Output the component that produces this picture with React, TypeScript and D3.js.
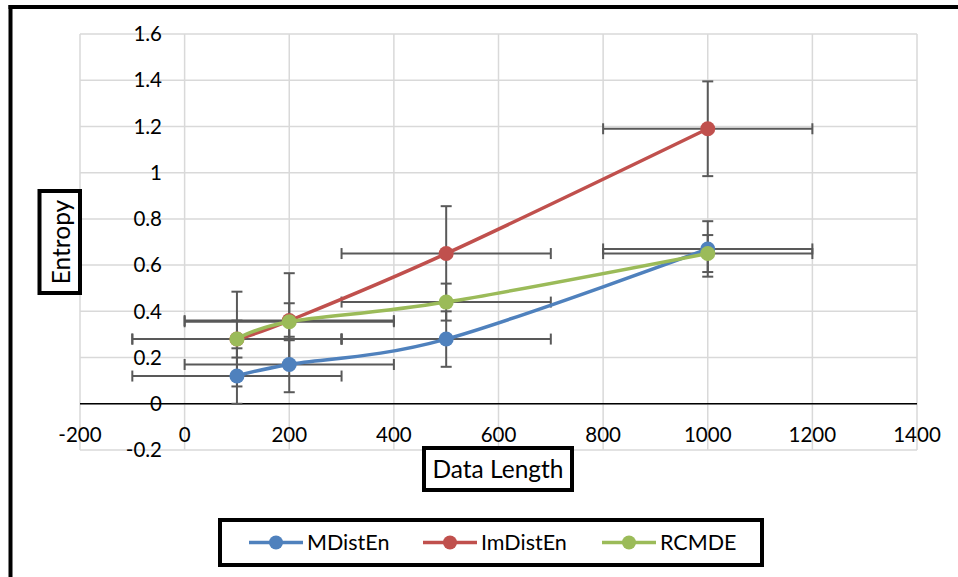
import { useEffect, useRef } from 'react';
import * as d3 from 'd3';

// data
const dataLength = [100, 200, 500, 1000];
const mdisten = [0.12, 0.17, 0.28, 0.67];
const imdisten = [0.28, 0.36, 0.65, 1.19];
const rcmde = [0.28, 0.355, 0.44, 0.65];
const seriesNames = ['MDistEn', 'ImDistEn', 'RCMDE'];
const seriesColors = ['#4F81BD', '#C0504D', '#9BBB59'];
const yErrors = [0.12, 0.205, 0.08];
const xError = 200;
const xTicks = [-200, 0, 200, 400, 600, 800, 1000, 1200, 1400];
const yTicks = [-0.2, 0, 0.2, 0.4, 0.6, 0.8, 1, 1.2, 1.4, 1.6];
const yTickLabels = ['-0.2', '0', '0.2', '0.4', '0.6', '0.8', '1', '1.2', '1.4', '1.6'];

const FONT = "Lato, 'Noto Sans', sans-serif";

const App = () => {
  const ref = useRef<SVGSVGElement>(null);

  useEffect(() => {
    const svg = d3.select(ref.current);
    svg.selectAll('*').remove();

    const x = d3.scaleLinear().domain([-200, 1400]).range([80, 917]);
    const y = d3.scaleLinear().domain([-0.2, 1.6]).range([450, 34]);

    const series = [mdisten, imdisten, rcmde].map((vals, i) => ({
      name: seriesNames[i],
      color: seriesColors[i],
      err: yErrors[i],
      points: vals.map((v, j) => ({ x: dataLength[j], y: v })),
    }));

    // outer chart frame (only left and top edges are visible)
    svg.append('line').attr('x1', 10.5).attr('x2', 10.5).attr('y1', 5).attr('y2', 577)
      .attr('stroke', '#000').attr('stroke-width', 4);
    svg.append('line').attr('x1', 8.5).attr('x2', 958).attr('y1', 7).attr('y2', 7)
      .attr('stroke', '#000').attr('stroke-width', 4);

    // gridlines
    const grid = svg.append('g').attr('stroke', '#d9d9d9').attr('stroke-width', 1.5);
    yTicks.forEach(t => {
      grid.append('line').attr('x1', x(-200)).attr('x2', x(1400)).attr('y1', y(t)).attr('y2', y(t));
    });
    xTicks.forEach(t => {
      grid.append('line').attr('x1', x(t)).attr('x2', x(t)).attr('y1', y(-0.2)).attr('y2', y(1.6));
    });

    // x axis at y = 0
    svg.append('line').attr('x1', x(-200)).attr('x2', x(1400)).attr('y1', y(0)).attr('y2', y(0))
      .attr('stroke', '#000').attr('stroke-width', 1.5);

    // tick labels
    svg.append('g').selectAll('text').data(yTicks).join('text')
      .attr('x', 162).attr('y', d => y(d)).attr('dy', '0.35em')
      .attr('text-anchor', 'end').attr('font-family', FONT).attr('font-size', 20.5)
      .attr('fill', '#000').text((d, i) => yTickLabels[i]);
    svg.append('g').selectAll('text').data(xTicks).join('text')
      .attr('x', d => x(d)).attr('y', 435).attr('dy', '0.35em')
      .attr('text-anchor', 'middle').attr('font-family', FONT).attr('font-size', 20.5)
      .attr('fill', '#000').text(d => String(d));

    // error bars behind the lines
    const eb = svg.append('g').attr('stroke', '#595959').attr('stroke-width', 2);
    const cap = 5.5;
    series.forEach(s => {
      s.points.forEach(p => {
        const cx = x(p.x), cy = y(p.y);
        const x0 = x(p.x - xError), x1 = x(p.x + xError);
        const y0 = y(p.y - s.err), y1 = y(p.y + s.err);
        eb.append('line').attr('x1', x0).attr('x2', x1).attr('y1', cy).attr('y2', cy);
        eb.append('line').attr('x1', x0).attr('x2', x0).attr('y1', cy - cap).attr('y2', cy + cap);
        eb.append('line').attr('x1', x1).attr('x2', x1).attr('y1', cy - cap).attr('y2', cy + cap);
        eb.append('line').attr('x1', cx).attr('x2', cx).attr('y1', y0).attr('y2', y1);
        eb.append('line').attr('x1', cx - cap).attr('x2', cx + cap).attr('y1', y0).attr('y2', y0);
        eb.append('line').attr('x1', cx - cap).attr('x2', cx + cap).attr('y1', y1).attr('y2', y1);
      });
    });

    // smoothed lines with markers
    const line = d3.line<{ x: number; y: number }>()
      .x(d => x(d.x)).y(d => y(d.y))
      .curve(d3.curveCardinal.tension(0));
    series.forEach(s => {
      svg.append('path').datum(s.points)
        .attr('fill', 'none').attr('stroke', s.color).attr('stroke-width', 3.5)
        .attr('stroke-linecap', 'round').attr('d', line);
      svg.append('g').selectAll('circle').data(s.points).join('circle')
        .attr('cx', d => x(d.x)).attr('cy', d => y(d.y)).attr('r', 7.5)
        .attr('fill', s.color);
    });

    // axis titles in boxes
    svg.append('rect').attr('x', 39.5).attr('y', 191).attr('width', 40.5).attr('height', 102)
      .attr('fill', '#fff').attr('stroke', '#000').attr('stroke-width', 4);
    svg.append('text').attr('transform', 'translate(61,242) rotate(-90)').attr('dy', '0.35em')
      .attr('text-anchor', 'middle').attr('font-family', FONT).attr('font-size', 24.5)
      .text('Entropy');

    svg.append('rect').attr('x', 424).attr('y', 448).attr('width', 148).attr('height', 42)
      .attr('fill', '#fff').attr('stroke', '#000').attr('stroke-width', 4);
    svg.append('text').attr('x', 498).attr('y', 469).attr('dy', '0.35em')
      .attr('text-anchor', 'middle').attr('font-family', FONT).attr('font-size', 24.5)
      .text('Data Length');

    // legend
    svg.append('rect').attr('x', 220).attr('y', 520).attr('width', 542).attr('height', 45)
      .attr('fill', '#fff').attr('stroke', '#000').attr('stroke-width', 4);
    const legendX = [249, 423, 602];
    series.forEach((s, i) => {
      const g = svg.append('g').attr('transform', `translate(${legendX[i]},542.5)`);
      g.append('line').attr('x1', 0).attr('x2', 54).attr('stroke', s.color).attr('stroke-width', 3.5);
      g.append('circle').attr('cx', 27).attr('r', 7).attr('fill', s.color);
      g.append('text').attr('x', 58).attr('dy', '0.35em').attr('font-family', FONT)
        .attr('font-size', 21.5).attr('fill', '#000').text(s.name);
    });
  }, []);

  return (
    <svg ref={ref} width={958} height={577}
      style={{ position: 'fixed', left: 0, top: 0, background: '#fff' }} />
  );
};

export default App;
